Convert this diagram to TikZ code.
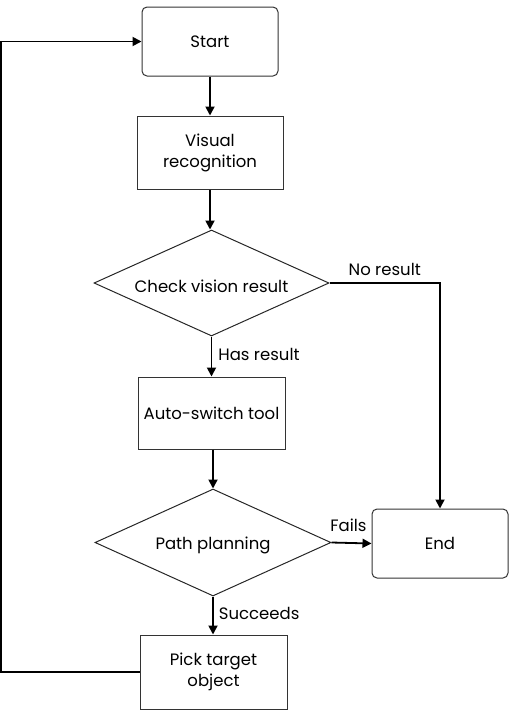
\documentclass[tikz,border=0pt]{standalone}
\usepackage{fontspec}
\setmainfont{Poppins}
\usetikzlibrary{arrows.meta,shapes.geometric}
\newcommand{\lowtext}[1]{\raisebox{-3pt}[\height][\depth]{#1}}
\begin{document}
\begin{tikzpicture}[x=1pt,y=-1pt,
  font=\fontsize{16.5}{21}\selectfont,
  boxnode/.style={draw=black!80,line width=1pt,align=center,inner sep=0pt},
  roundnode/.style={boxnode,rounded corners=5pt},
  decnode/.style={draw=black!85,line width=1pt,diamond,aspect=2.2,inner sep=0pt,align=center},
  conn/.style={line width=1.8pt,-{Triangle[length=9pt,width=9pt]}},
  line/.style={line width=1.8pt},
  lbl/.style={inner sep=1pt}]
\useasboundingbox (0,0) rectangle (513,721);
\node[roundnode,minimum width=136pt,minimum height=69pt] (start) at (210,41.5) {Start};
\node[boxnode,minimum width=146pt,minimum height=73pt] (vis) at (210,152.5) {Visual\\recognition};
\node[decnode,minimum width=235pt,minimum height=106pt] (d1) at (211.5,283) {\lowtext{Check vision result}};
\node[boxnode,minimum width=147pt,minimum height=72pt] (tool) at (211.5,413) {Auto-switch tool};
\node[decnode,minimum width=236pt,minimum height=107pt] (d2) at (213,542.5) {\lowtext{Path planning}};
\node[roundnode,minimum width=136pt,minimum height=69pt] (end) at (440,543.5) {End};
\node[boxnode,minimum width=147pt,minimum height=74pt] (pick) at (213.5,672) {Pick target\\object};
\coordinate (c1) at (440,283);
\coordinate (c2) at (1,672);
\coordinate (c3) at (1,41.5);
\draw[conn] (start) -- (vis);
\draw[conn] (vis.south) -- (vis.south |- d1.north);
\draw[conn] (d1.south) -- node[lbl,anchor=west,pos=0.45,xshift=5pt]{Has result} (d1.south |- tool.north);
\draw[conn] (tool.south -| d2.north) -- (d2.north);
\draw[conn] (d1.east) -- node[lbl,anchor=south,pos=0.5,yshift=5pt]{No result} (c1) -- (end.north);
\draw[conn] (d2.east) -- node[lbl,anchor=south,pos=0.0,xshift=17pt,yshift=9pt]{Fails} (end.west);
\draw[conn] (d2.south) -- node[lbl,anchor=west,pos=0.45,xshift=4pt]{Succeeds} (d2.south |- pick.north);
\draw[conn] (pick.west) -- (c2) -- (c3) -- (start.west);
\end{tikzpicture}
\end{document}
